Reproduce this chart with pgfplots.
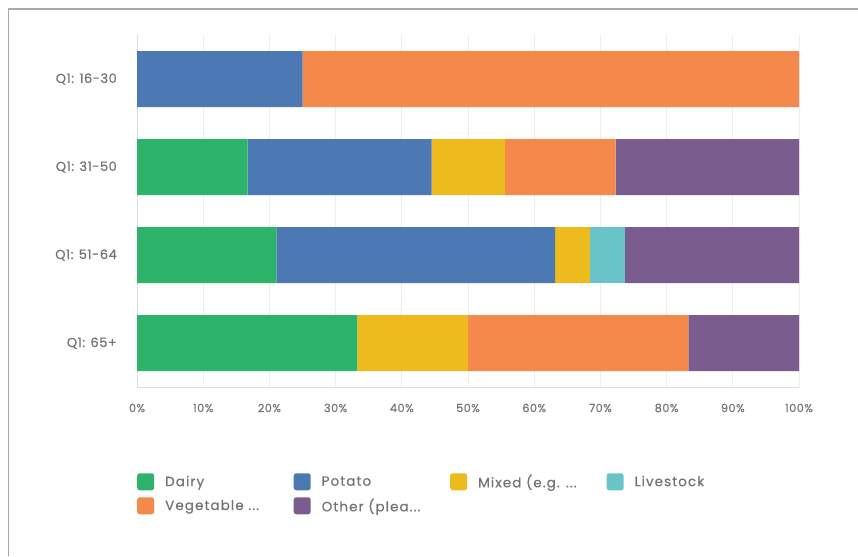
\documentclass[border=0pt]{standalone}
\usepackage{pgfplots}
\pgfplotsset{compat=1.18}
\usepackage{fontspec}
\setmainfont{Poppins}
\newfontfamily\labA{Poppins}[FakeBold=0.6, LetterSpace=4]
\newfontfamily\labB{Poppins}[FakeBold=0.6, LetterSpace=8]
\definecolor{cDairy}{HTML}{2EB36A}
\definecolor{cPotato}{HTML}{4C79B3}
\definecolor{cMixed}{HTML}{EEBB1F}
\definecolor{cLive}{HTML}{69C4C8}
\definecolor{cVeg}{HTML}{F4894B}
\definecolor{cOther}{HTML}{7A5C8E}
\definecolor{txt}{HTML}{747474}
\definecolor{gridc}{HTML}{EEEEEE}
\definecolor{axc}{HTML}{DDDDDD}
\definecolor{framec}{HTML}{A8A8A8}
\begin{document}
\begin{tikzpicture}[x=1pt,y=1pt]
\path[use as bounding box] (0,0) rectangle (858,556);
\draw[framec, line width=1.5pt] (8.5,0) -- (8.5,547) -- (858,547);
\begin{axis}[
  at={(137pt,168pt)}, anchor=south west,
  scale only axis, width=662pt, height=353pt,
  xbar stacked, bar width=56pt,
  xmin=0, xmax=100, ymin=-0.51, ymax=3.5,
  xtick={0,10,...,100},
  xticklabels={0\%,10\%,20\%,30\%,40\%,50\%,60\%,70\%,80\%,90\%,100\%},
  ytick={0,1,2,3},
  yticklabels={Q1: 65+,Q1: 51-64,Q1: 31-50,Q1: 16-30},
  major tick length=0pt,
  xmajorgrids, grid style={gridc, line width=0.8pt},
  axis x line*=bottom, axis y line*=left,
  axis line style={axc, line width=1pt},
  xticklabel style={font=\labA\fontsize{11.3}{13}\selectfont, text=txt, inner sep=0pt, anchor=center, yshift=-20pt},
  yticklabel style={font=\labA\fontsize{13}{14}\selectfont, text=txt, inner sep=0pt, anchor=east, xshift=-20pt},
  legend columns=4,
  legend style={at={(0,-0.241)}, anchor=north west, draw=none, fill=none, inner sep=0pt,
    font=\labB\fontsize{13.5}{15}\selectfont, text=txt,
    nodes={inner sep=0pt},
    /tikz/every odd column/.append style={column sep=11pt},
    row sep=7pt},
  legend cell align=left,
  legend image code/.code={\fill[#1, rounded corners=2.5pt] (0pt,-8.5pt) rectangle (17pt,8.5pt);},
]
\addplot[fill=cDairy, draw=none] coordinates {(33.3,0) (21.05,1) (16.7,2) (0,3)};
\addlegendentry{\makebox[128.5pt][l]{Dairy}}
\addplot[fill=cPotato, draw=none] coordinates {(0,0) (42.1,1) (27.8,2) (25,3)};
\addlegendentry{\makebox[128.5pt][l]{Potato}}
\addplot[fill=cMixed, draw=none] coordinates {(16.7,0) (5.26,1) (11.1,2) (0,3)};
\addlegendentry{\makebox[128.5pt][l]{Mixed (e.g. ...}}
\addplot[fill=cLive, draw=none] coordinates {(0,0) (5.26,1) (0,2) (0,3)};
\addlegendentry{\makebox[128.5pt][l]{Livestock}}
\addplot[fill=cVeg, draw=none] coordinates {(33.3,0) (0,1) (16.7,2) (75,3)};
\addlegendentry{\makebox[128.5pt][l]{Vegetable ...}}
\addplot[fill=cOther, draw=none] coordinates {(16.7,0) (26.33,1) (27.7,2) (0,3)};
\addlegendentry{\makebox[128.5pt][l]{Other (plea...}}
\end{axis}
\end{tikzpicture}
\end{document}
